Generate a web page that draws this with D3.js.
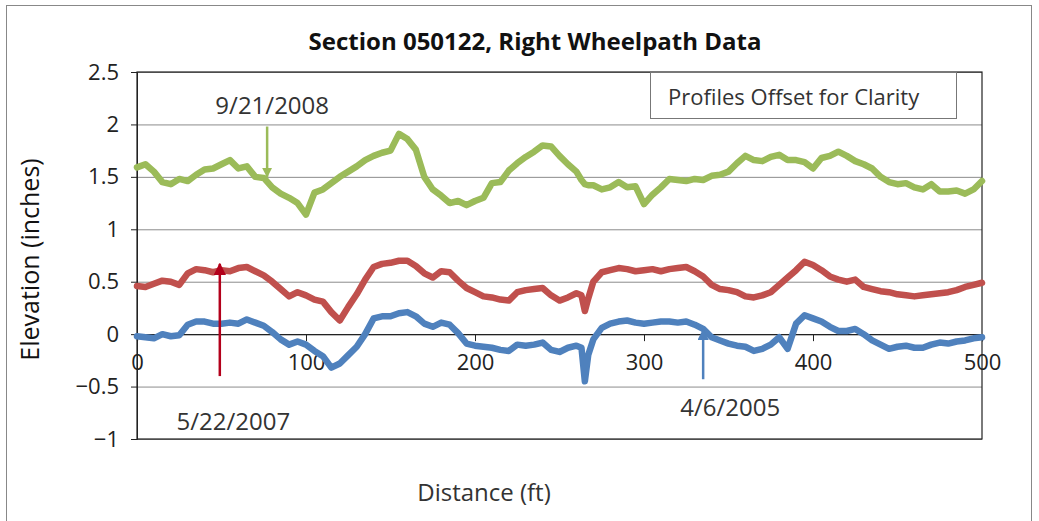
<!DOCTYPE html>
<html>
<head>
<meta charset="utf-8">
<script src="https://cdn.jsdelivr.net/npm/d3@7"></script>
<style>
  body { margin: 0; background: #fff; }
  svg { display: block; font-family: "Open Sans", sans-serif; }
</style>
</head>
<body>
<div id="chart"></div>
<script>
// distance along the section (ft); extra samples around the dip near 265 ft
const distance = [
  0, 5, 10, 15, 20, 25, 30, 35, 40, 45,
  50, 55, 60, 65, 70, 75, 80, 85, 90, 95,
  100, 105, 110, 115, 120, 125, 130, 135, 140, 145,
  150, 155, 160, 165, 170, 175, 180, 185, 190, 195,
  200, 205, 210, 215, 220, 225, 230, 235, 240, 245,
  250, 255, 260,
  263, 265, 267,
  270, 275, 280, 285, 290, 295,
  300, 305, 310, 315, 320, 325, 330, 335, 340, 345,
  350, 355, 360, 365, 370, 375, 380, 385, 390, 395,
  400, 405, 410, 415, 420, 425, 430, 435, 440, 445,
  450, 455, 460, 465, 470, 475, 480, 485, 490, 495,
  500
];

// elevation (inches), profiles offset for clarity
const sep2008 = [
  1.59, 1.62, 1.55, 1.45, 1.43, 1.48, 1.46, 1.52, 1.57, 1.58,
  1.62, 1.66, 1.58, 1.60, 1.50, 1.49, 1.40, 1.34, 1.30, 1.25,
  1.14, 1.35, 1.38, 1.44, 1.50, 1.55, 1.60, 1.66, 1.70, 1.73,
  1.75, 1.91, 1.86, 1.76, 1.50, 1.38, 1.32, 1.25, 1.27, 1.23,
  1.27, 1.30, 1.44, 1.45, 1.56, 1.63, 1.69, 1.74, 1.80, 1.79,
  1.70, 1.62, 1.55,
  1.47, 1.43, 1.42,
  1.42, 1.38, 1.40, 1.45, 1.40, 1.41,
  1.24, 1.33, 1.40, 1.48, 1.47, 1.46, 1.48, 1.47, 1.51, 1.52,
  1.55, 1.63, 1.70, 1.66, 1.65, 1.69, 1.71, 1.66, 1.66, 1.64,
  1.58, 1.68, 1.70, 1.74, 1.70, 1.65, 1.62, 1.58, 1.50, 1.45,
  1.43, 1.44, 1.40, 1.38, 1.43, 1.36, 1.36, 1.37, 1.34, 1.38,
  1.46
];

const may2007 = [
  0.46, 0.45, 0.48, 0.51, 0.50, 0.47, 0.58, 0.62, 0.61, 0.59,
  0.61, 0.60, 0.63, 0.64, 0.60, 0.56, 0.50, 0.43, 0.36, 0.40,
  0.37, 0.33, 0.31, 0.21, 0.13, 0.26, 0.38, 0.52, 0.64, 0.67,
  0.68, 0.70, 0.70, 0.65, 0.58, 0.54, 0.60, 0.59, 0.51, 0.44,
  0.40, 0.36, 0.35, 0.33, 0.32, 0.40, 0.42, 0.43, 0.44, 0.37,
  0.32, 0.35, 0.39,
  0.37, 0.22, 0.34,
  0.50, 0.59, 0.61, 0.63, 0.62, 0.60,
  0.61, 0.62, 0.60, 0.62, 0.63, 0.64, 0.60, 0.55, 0.47, 0.43,
  0.42, 0.40, 0.36, 0.35, 0.37, 0.40, 0.47, 0.54, 0.61, 0.69,
  0.66, 0.61, 0.55, 0.52, 0.50, 0.52, 0.45, 0.43, 0.41, 0.40,
  0.38, 0.37, 0.36, 0.37, 0.38, 0.39, 0.40, 0.42, 0.45, 0.47,
  0.49
];

const apr2005 = [
  -0.02, -0.03, -0.04, 0.00, -0.02, -0.01, 0.09, 0.12, 0.12, 0.10,
  0.10, 0.11, 0.10, 0.14, 0.11, 0.08, 0.02, -0.05, -0.10, -0.07,
  -0.10, -0.16, -0.21, -0.32, -0.28, -0.20, -0.12, 0.00, 0.15, 0.17,
  0.17, 0.20, 0.21, 0.17, 0.10, 0.07, 0.11, 0.09, 0.01, -0.09,
  -0.11, -0.12, -0.13, -0.15, -0.16, -0.10, -0.11, -0.10, -0.08, -0.15,
  -0.17, -0.13, -0.11,
  -0.13, -0.45, -0.20,
  -0.05, 0.06, 0.10, 0.12, 0.13, 0.11,
  0.10, 0.11, 0.12, 0.12, 0.11, 0.12, 0.09, 0.05, -0.03, -0.06,
  -0.09, -0.11, -0.12, -0.16, -0.14, -0.10, -0.03, -0.14, 0.10, 0.18,
  0.15, 0.12, 0.07, 0.03, 0.03, 0.05, 0.00, -0.06, -0.10, -0.14,
  -0.12, -0.11, -0.13, -0.13, -0.10, -0.08, -0.09, -0.07, -0.06, -0.04,
  -0.03
];

const yTicks = [-1, -0.5, 0, 0.5, 1, 1.5, 2, 2.5];
const xTicks = [0, 100, 200, 300, 400, 500];

// date labels with arrows: arrow at distance d from elevation y0 up to y1
const notes = [
  { label: '9/21/2008', d: 77, y0: 1.98, y1: 1.50, tx: 80, ty: 2.18, color: '#9bbb59', head: 4 },
  { label: '5/22/2007', d: 49, y0: -0.40, y1: 0.67, tx: 57, ty: -0.83, color: '#b3001b', head: 5 },
  { label: '4/6/2005', d: 335, y0: -0.43, y1: 0.04, tx: 351, ty: -0.70, color: '#4f81bd', head: 4.5 }
];

const width = 1039, height = 521;
const margin = { top: 72, right: 57, bottom: 82, left: 137 };
const w = width - margin.left - margin.right;
const h = height - margin.top - margin.bottom;

const svg = d3.select('#chart').append('svg')
  .attr('width', width)
  .attr('height', height);

// outer chart frame
svg.append('rect')
  .attr('x', 6.5).attr('y', 5.5)
  .attr('width', 1025).attr('height', 520)
  .attr('fill', 'none')
  .attr('stroke', '#888')
  .attr('stroke-width', 1);

svg.append('text')
  .attr('x', 535).attr('y', 50)
  .attr('text-anchor', 'middle')
  .attr('font-size', '24px')
  .attr('font-weight', 'bold')
  .attr('fill', '#111')
  .text('Section 050122, Right Wheelpath Data');

const g = svg.append('g')
  .attr('transform', `translate(${margin.left},${margin.top})`);

const x = d3.scaleLinear().domain([0, 500]).range([0, w]);
const y = d3.scaleLinear().domain([-1, 2.5]).range([h, 0]);

// horizontal grid
g.append('g')
  .call(d3.axisLeft(y).tickValues(yTicks).tickSize(-w).tickFormat(''))
  .call(s => s.select('.domain').remove())
  .selectAll('line')
  .attr('stroke', '#8c8c8c');

// plot frame
g.append('rect')
  .attr('x', 0).attr('y', 0)
  .attr('width', w).attr('height', h)
  .attr('fill', 'none')
  .attr('stroke', '#222')
  .attr('stroke-width', 1.2);

// y axis
const yAxis = g.append('g')
  .call(d3.axisLeft(y).tickValues(yTicks).tickSize(6).tickPadding(12).tickFormat(d3.format('')));
yAxis.select('.domain').attr('stroke', '#222');
yAxis.selectAll('line').attr('stroke', '#222');
yAxis.selectAll('text')
  .attr('font-size', '22px')
  .attr('font-family', '"Open Sans", sans-serif')
  .attr('fill', '#222');

// x axis sits on elevation 0
const xAxis = g.append('g')
  .attr('transform', `translate(0,${y(0)})`)
  .call(d3.axisBottom(x).tickValues(xTicks).tickSize(7).tickPadding(13));
xAxis.select('.domain').attr('stroke', '#222').attr('stroke-width', 1.2);
xAxis.selectAll('line').attr('stroke', '#222');
xAxis.selectAll('text')
  .attr('font-size', '22px')
  .attr('font-family', '"Open Sans", sans-serif')
  .attr('fill', '#222');

const line = d3.line()
  .x((d, i) => x(distance[i]))
  .y(d => y(d));

const series = [
  { values: apr2005, color: '#4f81bd' },
  { values: may2007, color: '#c0504d' },
  { values: sep2008, color: '#9bbb59' }
];

series.forEach(s => {
  g.append('path')
    .datum(s.values)
    .attr('fill', 'none')
    .attr('stroke', s.color)
    .attr('stroke-width', 6.5)
    .attr('stroke-linejoin', 'round')
    .attr('stroke-linecap', 'round')
    .attr('d', line);
});

// arrows
const defs = svg.append('defs');
notes.forEach((n, i) => {
  defs.append('marker')
    .attr('id', 'arrow' + i)
    .attr('viewBox', '0 0 10 10')
    .attr('refX', 9).attr('refY', 5)
    .attr('markerWidth', n.head).attr('markerHeight', n.head)
    .attr('orient', 'auto')
    .append('path')
    .attr('d', 'M0,0 L10,5 L0,10 z')
    .attr('fill', n.color);

  g.append('line')
    .attr('x1', x(n.d)).attr('x2', x(n.d))
    .attr('y1', y(n.y0)).attr('y2', y(n.y1))
    .attr('stroke', n.color)
    .attr('stroke-width', 2.5)
    .attr('marker-end', `url(#arrow${i})`);

  g.append('text')
    .attr('x', x(n.tx)).attr('y', y(n.ty))
    .attr('text-anchor', 'middle')
    .attr('dy', '0.35em')
    .attr('font-size', '24px')
    .attr('fill', '#333')
    .text(n.label);
});

// note box
g.append('rect')
  .attr('x', 513.5).attr('y', 0.5)
  .attr('width', 306).attr('height', 46)
  .attr('fill', '#fff')
  .attr('stroke', '#777');
g.append('text')
  .attr('x', 531).attr('y', 33)
  .attr('font-size', '22px')
  .attr('fill', '#333')
  .text('Profiles Offset for Clarity');

// axis titles
svg.append('text')
  .attr('transform', `translate(39,${margin.top + h / 2 + 4}) rotate(-90)`)
  .attr('text-anchor', 'middle')
  .attr('font-size', '25px')
  .attr('fill', '#111')
  .text('Elevation (inches)');

svg.append('text')
  .attr('x', 484).attr('y', 501)
  .attr('text-anchor', 'middle')
  .attr('font-size', '24px')
  .attr('fill', '#333')
  .text('Distance (ft)');
</script>
</body>
</html>
